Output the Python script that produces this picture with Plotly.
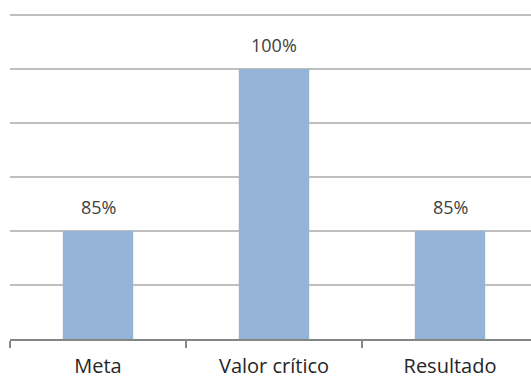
import plotly.graph_objects as go

categorias = ["Meta", "Valor crítico", "Resultado"]
valores = [85, 100, 85]

fig = go.Figure()
fig.add_trace(go.Bar(
    x=categorias,
    y=valores,
    width=0.4,
    marker=dict(color="#95B3D7", line=dict(width=0)),
    hoverinfo="skip",
))

for c, v in zip(categorias, valores):
    fig.add_annotation(
        x=c, y=v, text=f"{v}%", showarrow=False,
        yanchor="middle", yshift=24,
        font=dict(family="Open Sans", size=18, color="#404040"),
    )

fig.update_layout(
    width=531, height=379,
    margin=dict(l=10, r=0, t=13, b=40, autoexpand=False),
    paper_bgcolor="white", plot_bgcolor="white",
    showlegend=False,
    bargap=0.6,
)
fig.update_xaxes(
    range=[-0.5, 2.5 - 7 / 176],
    automargin=False,
    showline=True, linecolor="#868686", linewidth=1.5,
    ticks="outside", tickson="boundaries", ticklen=7,
    tickcolor="#868686", tickwidth=1.5,
    ticklabelstandoff=8,
    tickfont=dict(family="Open Sans", size=20, color="#262626"),
    showgrid=False,
)
fig.update_yaxes(
    range=[75, 75 + 326 / 10.8], dtick=5, tick0=75,
    automargin=False,
    showticklabels=False,
    showgrid=True, gridcolor="#BFBFBF", gridwidth=1.5,
    zeroline=False, showline=False, ticks="",
)

fig.write_html("out.html")
